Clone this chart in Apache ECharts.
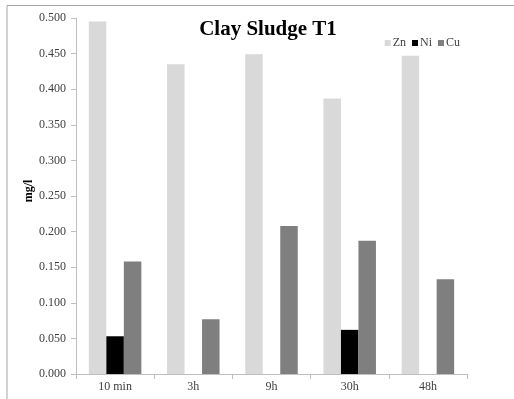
<!DOCTYPE html>
<html>
<head>
<meta charset="utf-8">
<script src="https://cdn.jsdelivr.net/npm/echarts@6/dist/echarts.min.js"></script>
<style>
  html, body { margin: 0; padding: 0; background: #fff; }
  #chart { width: 514px; height: 399px; }
</style>
</head>
<body>
<div id="chart"></div>
<script>
// Sampling times and metal concentrations (mg/l)
const categories = ['10 min', '3h', '9h', '30h', '48h'];
const zn = [0.495, 0.435, 0.449, 0.387, 0.447];
const ni = [0.053, null, null, 0.062, null];
const cu = [0.158, 0.077, 0.208, 0.187, 0.133];
const yTicks = { min: 0, max: 0.5, interval: 0.05 };

const serif = '"Liberation Serif", "DejaVu Serif", serif';
const chart = echarts.init(document.getElementById('chart'), null, { renderer: 'canvas' });

function bar(name, data, color) {
  return {
    name: name,
    type: 'bar',
    data: data,
    barWidth: 17.5,
    barGap: '0%',
    itemStyle: { color: color },
    emphasis: { disabled: true }
  };
}

chart.setOption({
  animation: false,
  backgroundColor: '#ffffff',
  title: {
    text: 'Clay Sludge T1',
    left: 263,
    top: 14,
    textAlign: 'center',
    textStyle: { fontFamily: serif, fontWeight: 'bold', fontSize: 21, color: '#000' }
  },
  legend: {
    right: 49,
    top: 32,
    itemWidth: 6,
    itemHeight: 6,
    itemGap: 6,
    icon: 'rect',
    textStyle: { fontFamily: serif, fontSize: 12, color: '#404040', padding: [0, 0, 0, -3] },
    data: ['Zn', 'Ni', 'Cu']
  },
  grid: { left: 76, right: 47, top: 18, bottom: 25 },
  xAxis: {
    type: 'category',
    data: categories,
    axisLine: { lineStyle: { color: '#bfbfbf' } },
    axisTick: { show: true, length: 5, lineStyle: { color: '#bfbfbf' } },
    axisLabel: { fontFamily: serif, fontSize: 12, color: '#404040', margin: 7 }
  },
  yAxis: {
    type: 'value',
    min: yTicks.min,
    max: yTicks.max,
    interval: yTicks.interval,
    name: 'mg/l',
    nameLocation: 'middle',
    nameGap: 41,
    nameMoveOverlap: false,
    nameRotate: 90,
    nameTextStyle: {
      fontFamily: serif, fontWeight: 'bold', fontSize: 12, color: '#000',
      padding: [0, 0, 0, 10]
    },
    axisLine: { show: true, lineStyle: { color: '#bfbfbf' } },
    axisTick: { show: true, length: 5, lineStyle: { color: '#bfbfbf' } },
    splitLine: { show: false },
    axisLabel: {
      fontFamily: serif, fontSize: 12, color: '#404040', margin: 10,
      formatter: v => v.toFixed(3)
    }
  },
  graphic: [{
    type: 'polyline',
    shape: { points: [[7, 399], [7, 5.5], [514, 5.5]] },
    style: { stroke: '#a6a6a6', lineWidth: 1, fill: null }
  }],
  series: [
    bar('Zn', zn, '#d9d9d9'),
    bar('Ni', ni, '#000000'),
    bar('Cu', cu, '#7f7f7f')
  ]
});
</script>
</body>
</html>
